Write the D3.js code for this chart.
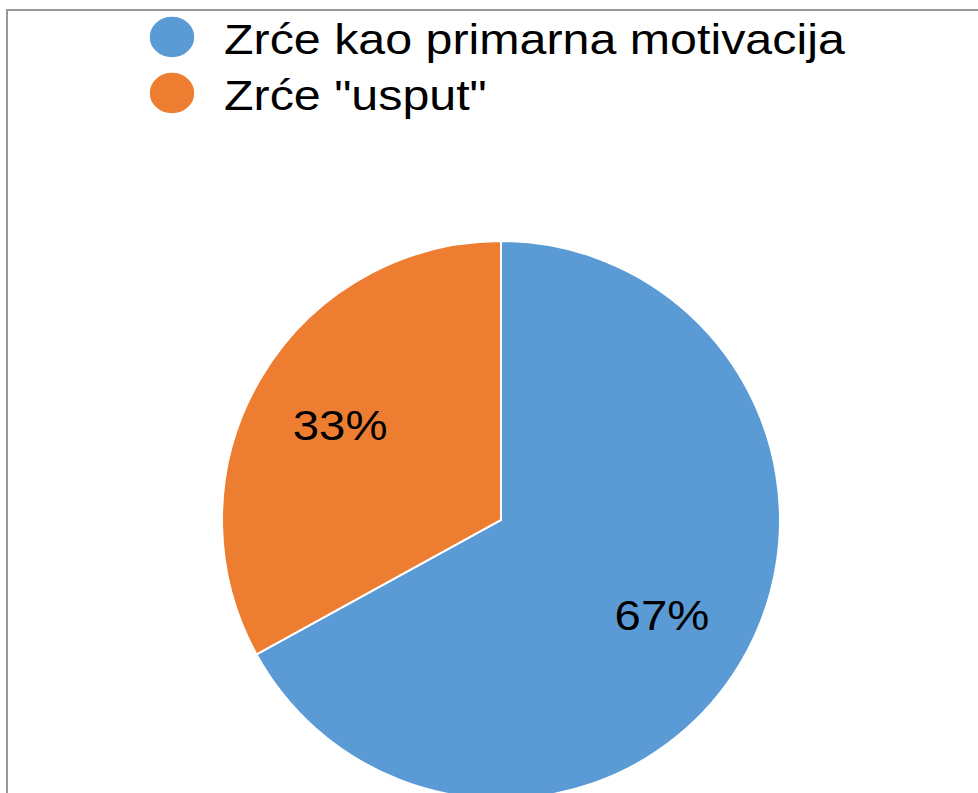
<!DOCTYPE html>
<html>
<head>
<meta charset="utf-8">
<script src="https://cdn.jsdelivr.net/npm/d3@7"></script>
<style>
  body { margin: 0; background: #fff; }
  svg { display: block; font-family: "Liberation Sans", Arial, Helvetica, sans-serif; }
</style>
</head>
<body>
<svg id="grafico"></svg>
<script>
const WIDTH = 978,
    HEIGHT = 793;

const categorias = ["Zrće kao primarna motivacija", "Zrće \"usput\""];
const valores = [67, 33];
const colores = ["#5B9BD5", "#ED7D31"];

const svg = d3.select("#grafico")
    .attr("width", WIDTH)
    .attr("height", HEIGHT);

// marco gris
svg.append("rect")
    .attr("x", 7)
    .attr("y", 10)
    .attr("width", WIDTH + 20)
    .attr("height", HEIGHT + 20)
    .attr("fill", "none")
    .attr("stroke", "#999")
    .attr("stroke-width", 2);

const radio = 279;
const centro = { x: 501, y: 520 };

const pie = d3.pie().sort(null).value(d => d.valor);
const datos = categorias.map((c, i) => ({ categoria: c, valor: valores[i], color: colores[i] }));
const arcos = pie(datos);

const arco = d3.arc().innerRadius(0).outerRadius(radio);
const arcoEtiqueta = d3.arc().innerRadius(radio * 0.67).outerRadius(radio * 0.67);

const contenedorPie = svg.append("g")
    .attr("transform", `translate(${centro.x} ${centro.y})`);

contenedorPie.selectAll("path")
    .data(arcos)
    .join("path")
    .attr("d", arco)
    .attr("fill", d => d.data.color)
    .attr("stroke", "#fff")
    .attr("stroke-width", 2);

contenedorPie.selectAll("text")
    .data(arcos)
    .join("text")
    .attr("transform", d => {
        const [x, y] = arcoEtiqueta.centroid(d);
        return `translate(${x} ${y}) scale(1.1 1)`;
    })
    .attr("text-anchor", "middle")
    .attr("dy", "0.35em")
    .attr("font-size", 43)
    .attr("fill", "#000")
    .text(d => `${d.data.valor}%`);

// leyenda
const leyenda = svg.append("g");

const items = leyenda.selectAll("g")
    .data(datos)
    .join("g")
    .attr("transform", (d, i) => `translate(0 ${37 + i * 56})`);

items.append("ellipse")
    .attr("cx", 172)
    .attr("cy", 0)
    .attr("rx", 23)
    .attr("ry", 21)
    .attr("fill", d => d.color)
    .attr("stroke", "#fff")
    .attr("stroke-width", 1.5);

items.append("text")
    .attr("transform", "translate(224 17) scale(1.125 1)")
    .attr("font-size", 43)
    .attr("fill", "#000")
    .text(d => d.categoria);
</script>
</body>
</html>
